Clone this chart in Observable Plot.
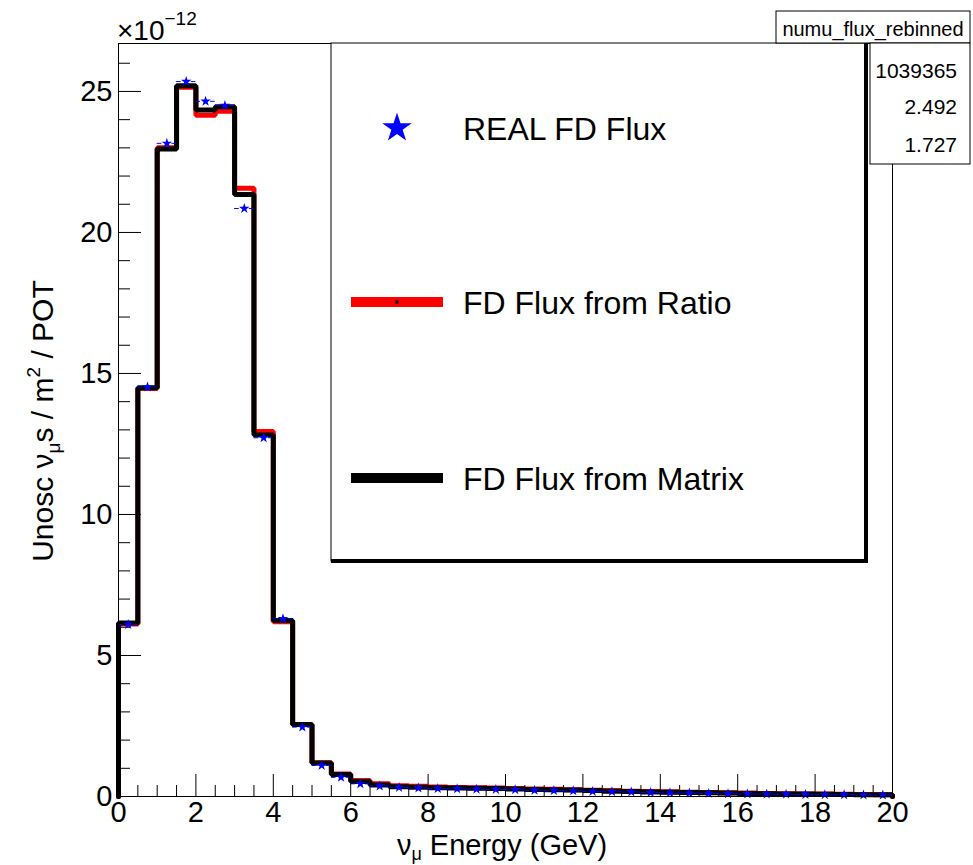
<!DOCTYPE html>
<html><head><meta charset="utf-8">
<script src="https://cdn.jsdelivr.net/npm/d3@7"></script>
<script src="https://cdn.jsdelivr.net/npm/@observablehq/plot@0.6"></script>
<style>
body{margin:0;background:#fff;}
#wrap{position:relative;width:973px;height:865px;font-family:"Liberation Sans",Arial,sans-serif;}
#wrap svg{position:absolute;left:0;top:0;}
</style></head><body><div id="wrap"></div>
<script>
// ---- data (values in units of 1e-12) ----
const binLow = [0,0.5,1,1.5,2,2.5,3,3.5,4,4.5,5,5.5,6,6.5,7,7.5,8,8.5,9,9.5,10,10.5,11,11.5,12,12.5,13,13.5,14,14.5,15,15.5,16,16.5,17,17.5,18,18.5,19,19.5];
const binWidth = 0.5;
const realFlux = [6.10,14.52,23.16,25.35,24.65,24.50,20.85,12.72,6.30,2.46,1.10,0.68,0.45,0.37,0.32,0.30,0.28,0.27,0.26,0.25,0.24,0.22,0.21,0.20,0.18,0.17,0.16,0.14,0.13,0.12,0.11,0.10,0.09,0.085,0.08,0.07,0.065,0.06,0.055,0.05];
const ratioFlux = [6.12,14.47,23.00,25.15,24.16,24.30,21.57,12.94,6.20,2.55,1.20,0.80,0.57,0.45,0.38,0.36,0.34,0.32,0.31,0.30,0.28,0.27,0.26,0.24,0.22,0.21,0.19,0.18,0.17,0.15,0.14,0.13,0.12,0.11,0.10,0.09,0.085,0.08,0.07,0.065];
const matrixFlux = [6.15,14.49,22.96,25.20,24.34,24.46,21.35,12.82,6.24,2.55,1.19,0.78,0.53,0.41,0.35,0.33,0.31,0.30,0.29,0.28,0.27,0.25,0.24,0.23,0.21,0.19,0.18,0.16,0.15,0.14,0.13,0.12,0.11,0.10,0.09,0.085,0.08,0.07,0.065,0.06];
const xMajorTicks = [0,2,4,6,8,10,12,14,16,18,20];
const yMajorTicks = [0,5,10,15,20,25];
const xMinorStep = 0.5;
const yMinorStep = 1;
const xDomain = [0,20];
const yDomain = [0,26.7];
const legendLabels = ["REAL FD Flux","FD Flux from Ratio","FD Flux from Matrix"];
const statsTitle = "numu_flux_rebinned";
const statsValues = ["1039365","2.492","1.727"];

// ---- derived tables ----
function steps(vals){
  const pts=[{x:xDomain[0],y:0}];
  binLow.forEach((e,i)=>pts.push({x:e,y:vals[i]}));
  pts.push({x:xDomain[1],y:vals[vals.length-1]});
  pts.push({x:xDomain[1],y:0});
  return pts;
}
const stars = binLow.map((e,i)=>({x:e+binWidth/2,y:realFlux[i],lo:e,hi:e+binWidth}));
const gap = 0.13;
const errSegs = stars.flatMap(d=>[{x1:d.lo,x2:d.x-gap,y:d.y},{x1:d.x+gap,x2:d.hi,y:d.y}]);
const xMinor = d3.range(xDomain[0],xDomain[1]+1e-9,xMinorStep).filter(v=>!xMajorTicks.includes(v));
const yMinor = d3.range(0,yDomain[1],yMinorStep).filter(v=>!yMajorTicks.includes(v));

const W=973,H=865,ML=118,MR=81,MT=43,MB=69;
const plot = Plot.plot({
  width:W,height:H,marginLeft:ML,marginRight:MR,marginTop:MT,marginBottom:MB,
  style:{fontFamily:"Liberation Sans, Arial, sans-serif",fontSize:"29px",color:"black",background:"white"},
  x:{domain:xDomain},
  y:{domain:yDomain},
  marks:[
    Plot.axisX({ticks:xMajorTicks,tickSize:0,tickPadding:5,tickFormat:d=>String(d),label:null,fontSize:29}),
    Plot.axisY({ticks:yMajorTicks,tickSize:0,tickPadding:6,tickFormat:d=>String(d),label:null,fontSize:29}),
    Plot.axisX({ticks:xMajorTicks,tickSize:-22,tickFormat:()=>"",label:null}),
    Plot.axisX({ticks:xMinor,tickSize:-11,tickFormat:()=>"",label:null}),
    Plot.axisY({ticks:yMajorTicks,tickSize:-23,tickFormat:()=>"",label:null}),
    Plot.axisY({ticks:yMinor,tickSize:-12,tickFormat:()=>"",label:null}),
    Plot.line(steps(ratioFlux),{x:"x",y:"y",curve:"step-after",stroke:"#ff0000",strokeWidth:5,strokeLinejoin:"miter"}),
    Plot.line(steps(matrixFlux),{x:"x",y:"y",curve:"step-after",stroke:"#000",strokeWidth:5,strokeLinejoin:"miter"}),
    Plot.ruleY(errSegs,{x1:"x1",x2:"x2",y:"y",stroke:"#0000ff",strokeWidth:1}),
    Plot.dot(stars,{x:"x",y:"y",symbol:"star",r:3.3,fill:"#0000ff",stroke:"none"}),
    Plot.frame({stroke:"black",strokeWidth:1})
  ]
});
const wrap=document.getElementById("wrap");
wrap.appendChild(plot);

// ---- overlay: legend, stats box, axis titles ----
const ov = d3.select(wrap).append("svg").attr("width",W).attr("height",H)
  .style("font-family","Liberation Sans, Arial, sans-serif");
// legend box
const lg = {x0:331,y0:43,x1:866,y1:561};
ov.append("rect").attr("x",lg.x0).attr("y",lg.y0).attr("width",lg.x1-lg.x0).attr("height",lg.y1-lg.y0)
  .attr("fill","white").attr("stroke","black").attr("stroke-width",1);
ov.append("line").attr("x1",lg.x1).attr("x2",lg.x1).attr("y1",lg.y0).attr("y2",lg.y1+2).attr("stroke","black").attr("stroke-width",4);
ov.append("line").attr("x1",lg.x0).attr("x2",lg.x1+2).attr("y1",lg.y1).attr("y2",lg.y1).attr("stroke","black").attr("stroke-width",4);
const rowY=[128,302,478];
ov.append("path").attr("d",d3.symbol(d3.symbolStar,270)()).attr("transform",`translate(397,${rowY[0]})`).attr("fill","#0000ff");
ov.append("line").attr("x1",351).attr("x2",443).attr("y1",rowY[1]).attr("y2",rowY[1]).attr("stroke","#ff0000").attr("stroke-width",10);
ov.append("rect").attr("x",395.5).attr("y",rowY[1]-1.5).attr("width",3).attr("height",3).attr("fill","black");
ov.append("line").attr("x1",351).attr("x2",443).attr("y1",rowY[2]).attr("y2",rowY[2]).attr("stroke","#000").attr("stroke-width",10);
legendLabels.forEach((t,i)=>{
  ov.append("text").attr("x",463).attr("y",rowY[i]).attr("dy","0.36em").attr("font-size",32).text(t);
});
// stats box
ov.append("rect").attr("x",776).attr("y",11).attr("width",194).attr("height",32).attr("fill","white").attr("stroke","black");
ov.append("text").attr("x",873).attr("y",29).attr("dy","0.35em").attr("text-anchor","middle").attr("font-size",20).text(statsTitle);
ov.append("rect").attr("x",870).attr("y",43).attr("width",100).attr("height",121).attr("fill","white").attr("stroke","black");
[70,106,144].forEach((y,i)=>{
  ov.append("text").attr("x",957).attr("y",y).attr("dy","0.36em").attr("text-anchor","end").attr("font-size",21).text(statsValues[i]);
});
// exponent
const ex = ov.append("text").attr("x",117).attr("y",40).attr("font-size",28);
ex.append("tspan").text("\u00d710");
ex.append("tspan").attr("font-size",19).attr("dy",-15).text("\u221212");
// x title
const xt = ov.append("text").attr("x",502).attr("y",855).attr("text-anchor","middle").attr("font-size",29);
xt.append("tspan").text("\u03bd");
xt.append("tspan").attr("font-size",18).attr("dy",5).text("\u03bc");
xt.append("tspan").attr("dy",-5).text(" Energy (GeV)");
// y title
const yt = ov.append("text").attr("transform","translate(53,421) rotate(-90)").attr("text-anchor","middle").attr("font-size",30);
yt.append("tspan").text("Unosc \u03bd");
yt.append("tspan").attr("font-size",19).attr("dy",7).text("\u03bc");
yt.append("tspan").attr("dy",-7).text("s / m");
yt.append("tspan").attr("font-size",19).attr("dy",-13).text("2");
yt.append("tspan").attr("dy",13).text(" / POT");
</script></body></html>
